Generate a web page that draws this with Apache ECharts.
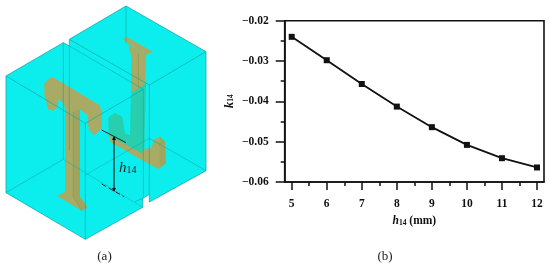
<!DOCTYPE html>
<html>
<head>
<meta charset="utf-8">
<style>html,body{margin:0;padding:0;background:#fff}#chart{width:550px;height:267px}</style>
<script src="https://cdn.jsdelivr.net/npm/echarts@6/dist/echarts.min.js"></script>
</head>
<body>
<div id="chart"></div>
<script>
var h14Values = [5, 6, 7, 8, 9, 10, 11, 12];
var k14Values = [-0.0240, -0.0298, -0.0357, -0.0413, -0.0464, -0.0508, -0.0541, -0.0564];
var xMajorTicks = [5, 6, 7, 8, 9, 10, 11, 12];
var xMinorTicks = [5.5, 6.5, 7.5, 8.5, 9.5, 10.5, 11.5];

var serif = '"Liberation Serif", serif';
var myChart = echarts.init(document.getElementById('chart'), null, {renderer: 'canvas'});

// illustration (a), traced in 3x crop pixels, scaled down in pts()
function pts(list) {
  return list.map(function (p) { return [p[0] / 3, p[1] / 3]; });
}
function poly(list, fill, z) {
  return {type: 'polygon', z: z || 1, silent: true, shape: {points: pts(list)}, style: {fill: fill, stroke: null}};
}
function seg(list, color, width, dash, z) {
  return {type: 'polyline', z: z || 3, silent: true, shape: {points: pts(list)},
    style: {fill: null, stroke: color, lineWidth: width, lineDash: dash || null}};
}

var cyan = '#0ceeee';
var edge = '#12a8a8';
var olive = '#a9aa63';
var oliveDark = '#a0a55e';
var oliveLine = '#7f9a5a';
var teal = '#27cfae';

var block = [[18,228],[190,128],[208,138],[208,118],[378,18],[618,155],[618,512],[448,606],[448,583],[428,595],[428,622],[256,718],[18,578]];
var tLeft = [[133,250],[148,234],[162,233],[298,315],[305,332],[305,385],[282,405],[266,388],[262,346],[240,328],
  [240,590],[262,622],[245,632],[172,588],[195,575],[195,325],[190,310],[175,297],[173,320],[160,332],[145,328],[133,285]];
var tLeftFace = [[220,335],[240,328],[240,590],[262,622],[245,632],[220,590]];
var jFlange = [[367,118],[380,110],[458,155],[438,165]];
var jStem = [[385,132],[438,165],[436,255],[393,280],[394,170]];
var jTeal = [[325,352],[345,338],[367,350],[375,400],[390,405],[393,280],[438,250],[433,450],[425,462],[325,405]];
var jFoot = [[325,405],[425,460],[435,445],[455,445],[460,420],[480,410],[495,425],[498,490],[475,507],[425,480],[332,426]];

var drawing = [
  poly(block, cyan, 1),
  poly(jStem, olive, 2),
  poly(jFlange, olive, 2),
  poly(jTeal, teal, 2),
  poly(jFoot, olive, 2),
  poly([[480,410],[495,425],[498,490],[480,503],[478,430]], oliveDark, 2),
  poly(tLeft, olive, 2),
  poly(tLeftFace, oliveDark, 2),
  seg(block.concat([block[0]]), edge, 0.8),
  seg([[18,228],[256,370],[256,718]], edge, 0.7),
  seg([[256,370],[430,268]], edge, 0.7),
  seg([[208,118],[448,255],[618,155]], edge, 0.7),
  seg([[448,255],[448,583]], edge, 0.7),
  seg([[190,128],[190,478],[18,578]], edge, 0.6),
  seg([[208,138],[208,450]], edge, 0.6),
  seg([[190,478],[428,622]], edge, 0.5),
  seg([[378,18],[378,130]], edge, 0.6),
  seg([[208,138],[430,268],[430,595]], edge, 0.6),
  seg([[448,415],[618,512]], edge, 0.6),
  seg([[448,415],[256,525]], edge, 0.5),
  seg([[405,605],[428,595]], edge, 0.7),
  seg([[220,335],[220,590],[245,632]], oliveLine, 0.6),
  seg([[415,160],[415,265]], oliveLine, 0.6),
  // dimension lines
  seg([[305,390],[378,428]], '#111', 0.9),
  seg([[305,552],[372,590]], '#111', 0.9, [5, 3]),
  seg([[342,412],[342,572]], '#111', 1.1),
  poly([[342,408],[336,420],[348,420]], '#111', 4),
  poly([[342,576],[336,564],[348,564]], '#111', 4),
  {
    type: 'text', z: 5, silent: true, x: 119, y: 168,
    style: {
      text: '{i|h}{s|14}',
      rich: {
        i: {fontFamily: serif, fontStyle: 'italic', fontSize: 15, fill: '#222'},
        s: {fontFamily: serif, fontSize: 10, fill: '#222', padding: [5, 0, 0, 0]}
      },
      verticalAlign: 'middle'
    }
  },
  {type: 'text', silent: true, x: 104.5, y: 257, style: {text: '(a)', fontFamily: serif, fontSize: 13, fill: '#222', align: 'center', verticalAlign: 'middle'}},
  {type: 'text', silent: true, x: 385, y: 257, style: {text: '(b)', fontFamily: serif, fontSize: 13, fill: '#222', align: 'center', verticalAlign: 'middle'}}
];

var subTitle = {
  i: {fontFamily: serif, fontStyle: 'italic', fontWeight: 'bold', fontSize: 11.5, color: '#111'},
  s: {fontFamily: serif, fontWeight: 'bold', fontSize: 7.5, color: '#111', padding: [4, 0, 0, 0]},
  k: {fontFamily: serif, fontStyle: 'italic', fontWeight: 'bold', fontSize: 13, color: '#111'},
  t: {fontFamily: serif, fontWeight: 'bold', fontSize: 11.5, color: '#111'}
};

myChart.setOption({
  animation: false,
  backgroundColor: '#fff',
  graphic: drawing,
  grid: {
    left: 284.7,
    right: 6,
    top: 20.7,
    height: 161.3,
    show: true,
    borderColor: '#111',
    borderWidth: 1.6,
    backgroundColor: 'transparent'
  },
  xAxis: [
    {
      type: 'value',
      min: 4.8,
      max: 12.2,
      splitLine: {show: false},
      axisLine: {onZero: false, lineStyle: {color: '#111', width: 1.6}},
      axisTick: {show: true, customValues: xMajorTicks, length: 8, lineStyle: {color: '#111', width: 1.5}},
      axisLabel: {customValues: xMajorTicks, margin: 16, fontFamily: serif, fontWeight: 'bold', fontSize: 11.5, color: '#111'},
      name: '{i|h}{s|14}{t| (mm)}',
      nameLocation: 'middle',
      nameGap: 33,
      nameTextStyle: {rich: subTitle}
    },
    {
      type: 'value',
      position: 'bottom',
      min: 4.8,
      max: 12.2,
      splitLine: {show: false},
      axisLine: {show: false, onZero: false},
      axisTick: {show: true, customValues: xMinorTicks, length: 4, lineStyle: {color: '#111', width: 1.5}},
      axisLabel: {show: false}
    }
  ],
  yAxis: {
    type: 'value',
    min: -0.06,
    max: -0.02,
    interval: 0.01,
    splitLine: {show: false},
    axisLine: {onZero: false, lineStyle: {color: '#111', width: 1.6}},
    axisTick: {show: true, length: 9, lineStyle: {color: '#111', width: 1.5}},
    minorTick: {show: true, splitNumber: 2, length: 4, lineStyle: {color: '#111', width: 1.5}},
    minorSplitLine: {show: false},
    axisLabel: {
      margin: 16,
      fontFamily: serif,
      fontWeight: 'bold',
      fontSize: 11.5,
      color: '#111',
      formatter: function (v) { return '\u2212' + Math.abs(v).toFixed(2); }
    },
    name: '{k|k}{s|14}',
    nameLocation: 'middle',
    nameGap: 49,
    nameTextStyle: {rich: subTitle}
  },
  series: [
    {
      name: 'k14',
      type: 'line',
      xAxisIndex: 0,
      data: h14Values.map(function (h, i) { return [h, k14Values[i]]; }),
      symbol: 'rect',
      symbolSize: 6,
      lineStyle: {color: '#111', width: 1.8},
      itemStyle: {color: '#111'}
    }
  ]
});
</script>
</body>
</html>
